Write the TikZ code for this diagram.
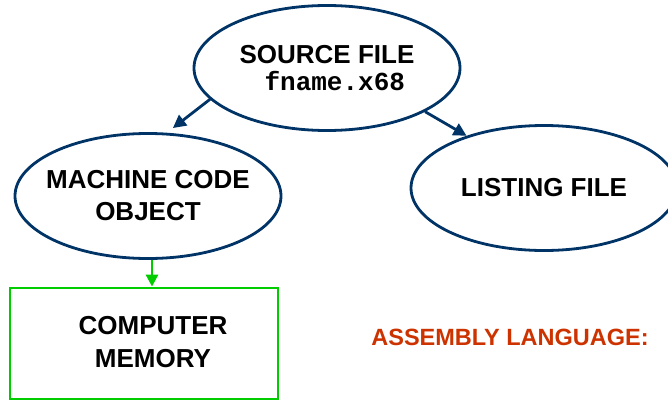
\documentclass[tikz,border=0pt]{standalone}
\usepackage{fontspec}
\setmainfont{Liberation Sans}
\setmonofont{Liberation Mono}
\usetikzlibrary{shapes.geometric}
\usetikzlibrary{arrows.meta}
\definecolor{navy}{RGB}{0,51,102}
\definecolor{grn}{RGB}{0,204,0}
\definecolor{rust}{RGB}{204,51,0}

\begin{document}
\begin{tikzpicture}[x=1pt,y=1pt,
  blob/.style={ellipse,draw=navy,line width=2.8pt,fill=white,
    minimum width=266pt,minimum height=125pt,inner sep=0pt,align=center,
    font=\fontsize{26}{32}\selectfont\bfseries},
  blu/.style={navy,line width=2.8pt,-{Triangle[length=13pt,width=13pt]}},
  grnarr/.style={grn,line width=2.8pt,-{Triangle[length=12pt,width=12pt]}}]
  \clip (0,0) rectangle (668,400);
  \node[blob] (src) at (327,332) {SOURCE FILE\\[-5pt]\texttt{\bfseries\ fname.x68}};
  \node[blob,inner xsep=-10pt] (mach) at (148,204) {MACHINE CODE\\OBJECT};
  \node[blob] (list) at (544,212) {LISTING FILE};
  \node[draw=grn,line width=2.8pt,minimum width=268pt,minimum height=111pt,inner sep=0pt] (mem) at (144,56.5) {};
  \node[align=center,font=\fontsize{26}{33}\selectfont\bfseries] (memtxt) at (153,58) {COMPUTER\\MEMORY};
  \node[rust,font=\fontsize{23.5}{28}\selectfont\bfseries] (asm) at (510,63) {ASSEMBLY LANGUAGE:};
  \draw[blu] (src.195) -- ([shift={(2pt,5pt)}]mach.70);
  \draw[blu] (src.336) -- (list.146);
  \draw[grnarr] ([xshift=4pt]mach.south) -- ([xshift=4pt]mach.south |- mem.north);
\end{tikzpicture}
\end{document}
